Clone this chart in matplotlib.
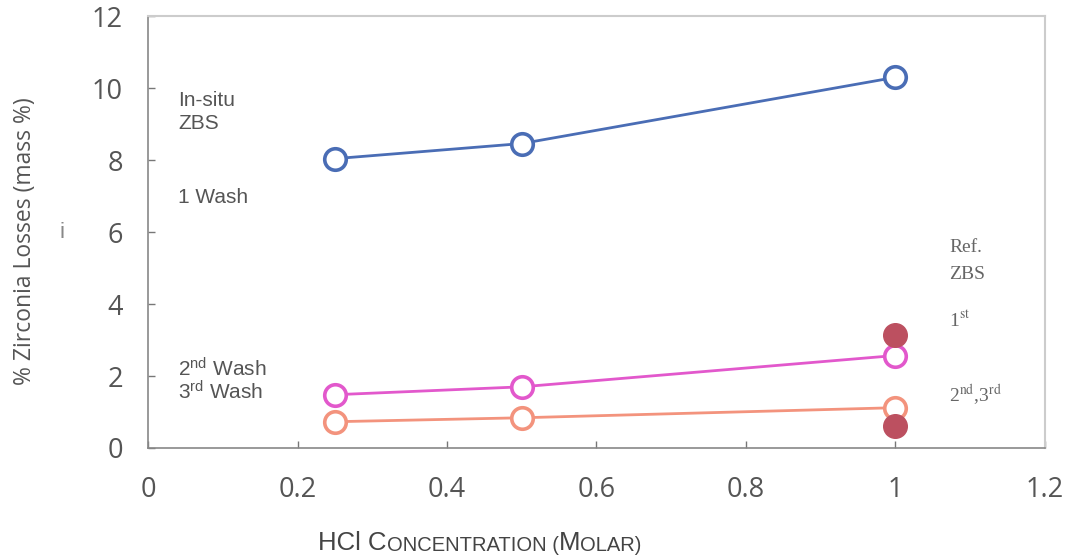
import matplotlib
matplotlib.use("Agg")
import matplotlib.pyplot as plt

# HCl concentration (M) and zirconia losses (mass %)
hcl_conc = [0.25, 0.5, 1.0]
insitu_wash1 = [8.04, 8.46, 10.30]
insitu_wash2 = [1.48, 1.70, 2.57]
insitu_wash3 = [0.73, 0.84, 1.12]
ref_conc = [1.0, 1.0]
ref_losses = [3.13, 0.61]

x_ticks = [0, 0.2, 0.4, 0.6, 0.8, 1, 1.2]
x_tick_labels = ["0", "0.2", "0.4", "0.6", "0.8", "1", "1.2"]
y_ticks = [0, 2, 4, 6, 8, 10, 12]

plt.rcParams["mathtext.fontset"] = "custom"
plt.rcParams["mathtext.rm"] = "Liberation Sans"
plt.rcParams["mathtext.it"] = "Liberation Sans:italic"

fig = plt.figure(figsize=(10.75, 5.57), dpi=100)
ax = fig.add_axes([0.1377, 0.1957, 0.8343, 0.7753])

blue = "#4A6DB5"
pink = "#E258CC"
salmon = "#F3937D"
dark_red = "#BC5060"

style = dict(marker="o", markersize=15.5, markerfacecolor="white",
             markeredgewidth=2.6, linewidth=2.0, zorder=3)
ax.plot(hcl_conc, insitu_wash1, color=blue, markeredgecolor=blue, **style)
ax.plot(hcl_conc, insitu_wash2, color=pink, markeredgecolor=pink, **style)
ax.plot(hcl_conc, insitu_wash3, color=salmon, markeredgecolor=salmon, **style)
ax.plot(ref_conc, ref_losses, linestyle="none", marker="o", markersize=17,
        color=dark_red, zorder=4)

ax.set_xlim(0, 1.2)
ax.set_ylim(0, 12)
ax.set_xticks(x_ticks)
ax.set_xticklabels(x_tick_labels)
ax.set_yticks(y_ticks)

for lab in ax.get_xticklabels() + ax.get_yticklabels():
    lab.set_fontfamily("Open Sans")
    lab.set_fontsize(19.5)
    lab.set_color("#555555")
ax.tick_params(axis="both", direction="in", length=5, width=1, color="#777777")
ax.tick_params(axis="x", pad=20)
ax.tick_params(axis="y", pad=18)

for side in ("top", "right"):
    ax.spines[side].set_color("#CCCCCC")
    ax.spines[side].set_linewidth(1.5)
for side in ("left", "bottom"):
    ax.spines[side].set_color("#888888")
    ax.spines[side].set_linewidth(1.2)

ax.set_ylabel("% Zirconia Losses (mass %)", fontfamily="Open Sans",
              fontsize=16.5, color="#555555")
ax.yaxis.set_label_coords(-0.124, 0.48)

# x-axis label in small capitals
gray = "#444444"
pieces = [("HCl C", 18.5), ("ONCENTRATION (", 14.5), ("M", 18.5), ("OLAR)", 14.5)]
prev = fig.text(0.296, 0.012, pieces[0][0], fontfamily="Liberation Sans",
                fontsize=pieces[0][1], color=gray, ha="left", va="baseline")
for txt, sz in pieces[1:]:
    prev = ax.annotate(txt, xy=(1, 0), xycoords=prev, ha="left", va="bottom",
                       fontfamily="Liberation Sans", fontsize=sz, color=gray,
                       annotation_clip=False)

# in-plot labels
sans = dict(fontfamily="Liberation Sans", fontsize=15, color="#555555",
            math_fontfamily="custom", transform=ax.transData, va="center")
ax.text(0.04, 9.67, "In-situ", **sans)
ax.text(0.04, 9.03, "ZBS", **sans)
ax.text(0.04, 6.97, "1 Wash", **sans)
ax.text(0.04, 2.2, r"2$^{\mathrm{nd}}$ Wash", **sans)
ax.text(0.04, 1.56, r"3$^{\mathrm{rd}}$ Wash", **sans)

serif = dict(fontfamily="Liberation Serif", fontsize=14, color="#666666",
             math_fontfamily="stix", transform=ax.transData, va="center")
ax.text(1.0716, 5.56, "Ref.", **serif)
ax.text(1.0716, 4.83, "ZBS", **serif)
ax.text(1.0716, 3.55, r"1$^{\mathrm{st}}$", **serif)
ax.text(1.0716, 1.5, r"2$^{\mathrm{nd}}$,3$^{\mathrm{rd}}$", **serif)

fig.text(0.058, 0.583, "i", fontfamily="Liberation Sans", fontsize=16,
         color="#888888", ha="center", va="center")

fig.savefig("out.png", dpi=100, facecolor="white")
